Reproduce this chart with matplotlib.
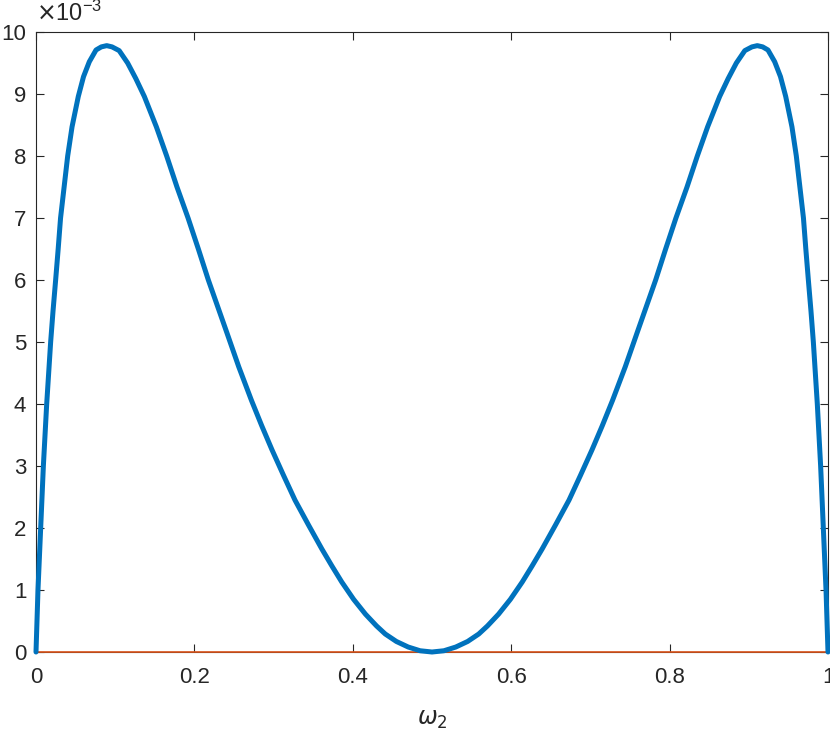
import matplotlib.pyplot as plt

# values (y in units of 1e-3)
omega2 = [0, 0.0025, 0.0059, 0.0093, 0.0135, 0.0185, 0.0215, 0.0248, 0.028, 0.031,
          0.0355, 0.040, 0.0455, 0.0534, 0.060, 0.0673, 0.0758, 0.0825, 0.0893, 0.096,
          0.105, 0.1157, 0.126, 0.1368, 0.152, 0.165, 0.178, 0.192, 0.205, 0.2176,
          0.241, 0.256, 0.272, 0.285, 0.298, 0.3125, 0.327, 0.344, 0.361, 0.3735,
          0.386, 0.401, 0.416, 0.430, 0.441, 0.455, 0.470, 0.485, 0.500,
          0.515, 0.530, 0.545, 0.559, 0.570, 0.584, 0.599, 0.614, 0.6265, 0.639,
          0.656, 0.673, 0.6875, 0.702, 0.715, 0.728, 0.744, 0.759, 0.7824, 0.795,
          0.808, 0.822, 0.835, 0.848, 0.8632, 0.874, 0.8843, 0.895, 0.904, 0.9107,
          0.9175, 0.9242, 0.9327, 0.940, 0.9466, 0.9545, 0.960, 0.9645, 0.969, 0.972,
          0.9752, 0.9785, 0.9815, 0.9865, 0.9907, 0.9941, 0.9975, 1.0]
gap = [0, 1, 2, 3, 4, 5, 5.5, 6, 6.5, 7,
       7.5, 8, 8.47, 8.96, 9.28, 9.52, 9.71, 9.76, 9.78, 9.76,
       9.70, 9.50, 9.25, 8.96, 8.47, 8.0, 7.5, 7.0, 6.5, 6.0,
       5.15, 4.6, 4.06, 3.65, 3.26, 2.85, 2.45, 2.05, 1.66, 1.39,
       1.13, 0.85, 0.61, 0.42, 0.29, 0.17, 0.08, 0.02, 0,
       0.02, 0.08, 0.17, 0.29, 0.42, 0.61, 0.85, 1.13, 1.39, 1.66,
       2.05, 2.45, 2.85, 3.26, 3.65, 4.06, 4.6, 5.15, 6.0, 6.5,
       7.0, 7.5, 8.0, 8.47, 8.96, 9.25, 9.50, 9.70, 9.76, 9.78,
       9.76, 9.71, 9.52, 9.28, 8.96, 8.47, 8, 7.5, 7, 6.5,
       6, 5.5, 5, 4, 3, 2, 1, 0]
zero_x = [0, 1]
zero_line = [0, 0]

plt.rcParams['font.family'] = 'Liberation Sans'
fig = plt.figure(figsize=(8.3, 7.38), dpi=100)
ax = fig.add_axes([36/830, 86/738, 792/830, 620/738])

ax.plot(zero_x, zero_line, color='#D95319', linewidth=1.2, zorder=3, clip_on=False)
ax.plot(omega2, gap, color='#0072BD', linewidth=3.6, solid_joinstyle='round',
        solid_capstyle='round', zorder=4, clip_on=False)

ax.set_xlim(0, 1)
ax.set_ylim(0, 10)
ax.set_xticks([0, 0.2, 0.4, 0.6, 0.8, 1])
ax.set_xticklabels(['0', '0.2', '0.4', '0.6', '0.8', '1'])
ax.set_yticks(range(0, 11))
ax.tick_params(direction='in', length=5.8, width=0.8, colors='#262626',
               labelsize=16, top=True, right=True)
ax.tick_params(axis='x', pad=11)
ax.tick_params(axis='y', pad=7)
for s in ax.spines.values():
    s.set_color('#262626')
    s.set_linewidth(0.8)

ax.set_xlabel(r'$\omega_2$', fontsize=17, color='#262626', labelpad=15)
ax.text(0, 1.01, r'$\times\mathregular{10^{-3}}$', transform=ax.transAxes,
        fontsize=17, color='#262626', ha='left', va='bottom')

fig.savefig('out.png', dpi=100)
